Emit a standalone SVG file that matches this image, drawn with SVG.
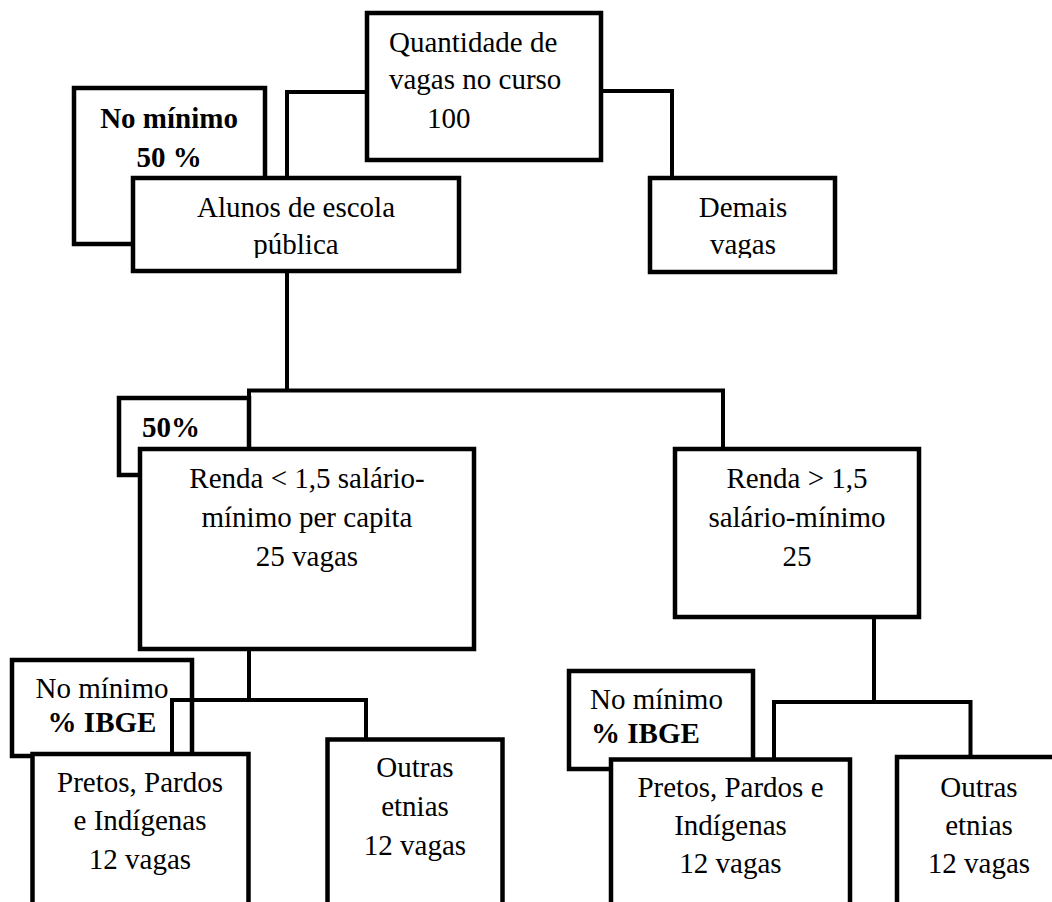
<svg xmlns="http://www.w3.org/2000/svg" width="1052" height="902" viewBox="0 0 1052 902">
<style>
.box{fill:#fff;stroke:#000;stroke-width:4.5}
.conn{fill:none;stroke:#000;stroke-width:4}
text{font-family:"Liberation Serif","Times New Roman",serif;font-size:29px;fill:#000}
.c{text-anchor:middle}
.b{font-weight:bold}
</style>
<defs>
<clipPath id="clipTop"><rect x="0" y="0" width="1052" height="258"/></clipPath>
</defs>
<rect x="0" y="0" width="1052" height="902" fill="#fff"/>

<g id="note-50min">
<rect class="box" x="74" y="88" width="191" height="156"/>
<text class="c b" x="169" y="128">No mínimo</text>
<text class="c b" x="169" y="167">50 %</text>
</g>
<g id="note-50">
<rect class="box" x="119" y="398" width="130" height="77"/>
<text class="b" x="142" y="437">50%</text>
</g>
<g id="note-ibge-left">
<rect class="box" x="12" y="660" width="180" height="96"/>
<text class="c" x="102" y="698">No mínimo</text>
<text class="c b" x="102" y="732">% IBGE</text>
</g>
<g id="note-ibge-right">
<rect class="box" x="569" y="671" width="184" height="98"/>
<text x="590" y="709">No mínimo</text>
<text class="b" x="591" y="743">% IBGE</text>
</g>

<g id="connectors">
<polyline class="conn" points="367,92 287,92 287,178"/>
<polyline class="conn" points="601,91 672,91 672,178"/>
<line class="conn" x1="287" y1="271" x2="287" y2="390.5"/>
<polyline class="conn" points="249,449 249,390.5 723,390.5 723,449"/>
<line class="conn" x1="249" y1="649" x2="249" y2="700"/>
<polyline class="conn" points="172,754 172,700 366,700 366,739"/>
<line class="conn" x1="874" y1="617" x2="874" y2="702"/>
<polyline class="conn" points="774,759 774,702 970.5,702 970.5,757"/>
</g>

<g id="total">
<rect class="box" x="367" y="13" width="234" height="147"/>
<text x="389" y="52">Quantidade de</text>
<text x="389" y="89">vagas no curso</text>
<text x="427" y="128">100</text>
</g>
<g id="publica">
<rect class="box" x="133" y="178" width="326" height="93"/>
<g clip-path="url(#clipTop)">
<text class="c" x="296" y="217">Alunos de escola</text>
<text class="c" x="296" y="254">pública</text>
</g>
</g>
<g id="demais">
<rect class="box" x="650" y="178" width="185" height="94"/>
<g clip-path="url(#clipTop)">
<text class="c" x="743" y="217">Demais</text>
<text class="c" x="743" y="254">vagas</text>
</g>
</g>
<g id="renda-baixa">
<rect class="box" x="140" y="449" width="334" height="200"/>
<text class="c" x="307" y="488">Renda &lt; 1,5 salário-</text>
<text class="c" x="307" y="527">mínimo per capita</text>
<text class="c" x="307" y="566">25 vagas</text>
</g>
<g id="renda-alta">
<rect class="box" x="675" y="449" width="244" height="168"/>
<text class="c" x="797" y="488">Renda &gt; 1,5</text>
<text class="c" x="797" y="527">salário-mínimo</text>
<text class="c" x="797" y="566">25</text>
</g>
<g id="ppi-left">
<rect class="box" x="32.5" y="754" width="216" height="200"/>
<text class="c" x="140" y="792">Pretos, Pardos</text>
<text class="c" x="140" y="830">e Indígenas</text>
<text class="c" x="140" y="869">12 vagas</text>
</g>
<g id="outras-left">
<rect class="box" x="327.5" y="739.5" width="175" height="200"/>
<text class="c" x="415" y="777">Outras</text>
<text class="c" x="415" y="816">etnias</text>
<text class="c" x="415" y="855">12 vagas</text>
</g>
<g id="ppi-right">
<rect class="box" x="611" y="759.5" width="239" height="200"/>
<text class="c" x="730.5" y="797">Pretos, Pardos e</text>
<text class="c" x="730.5" y="835">Indígenas</text>
<text class="c" x="730.5" y="873">12 vagas</text>
</g>
<g id="outras-right">
<rect class="box" x="897" y="757" width="170" height="200"/>
<text class="c" x="979" y="797">Outras</text>
<text class="c" x="979" y="835">etnias</text>
<text class="c" x="979" y="873">12 vagas</text>
</g>
</svg>
